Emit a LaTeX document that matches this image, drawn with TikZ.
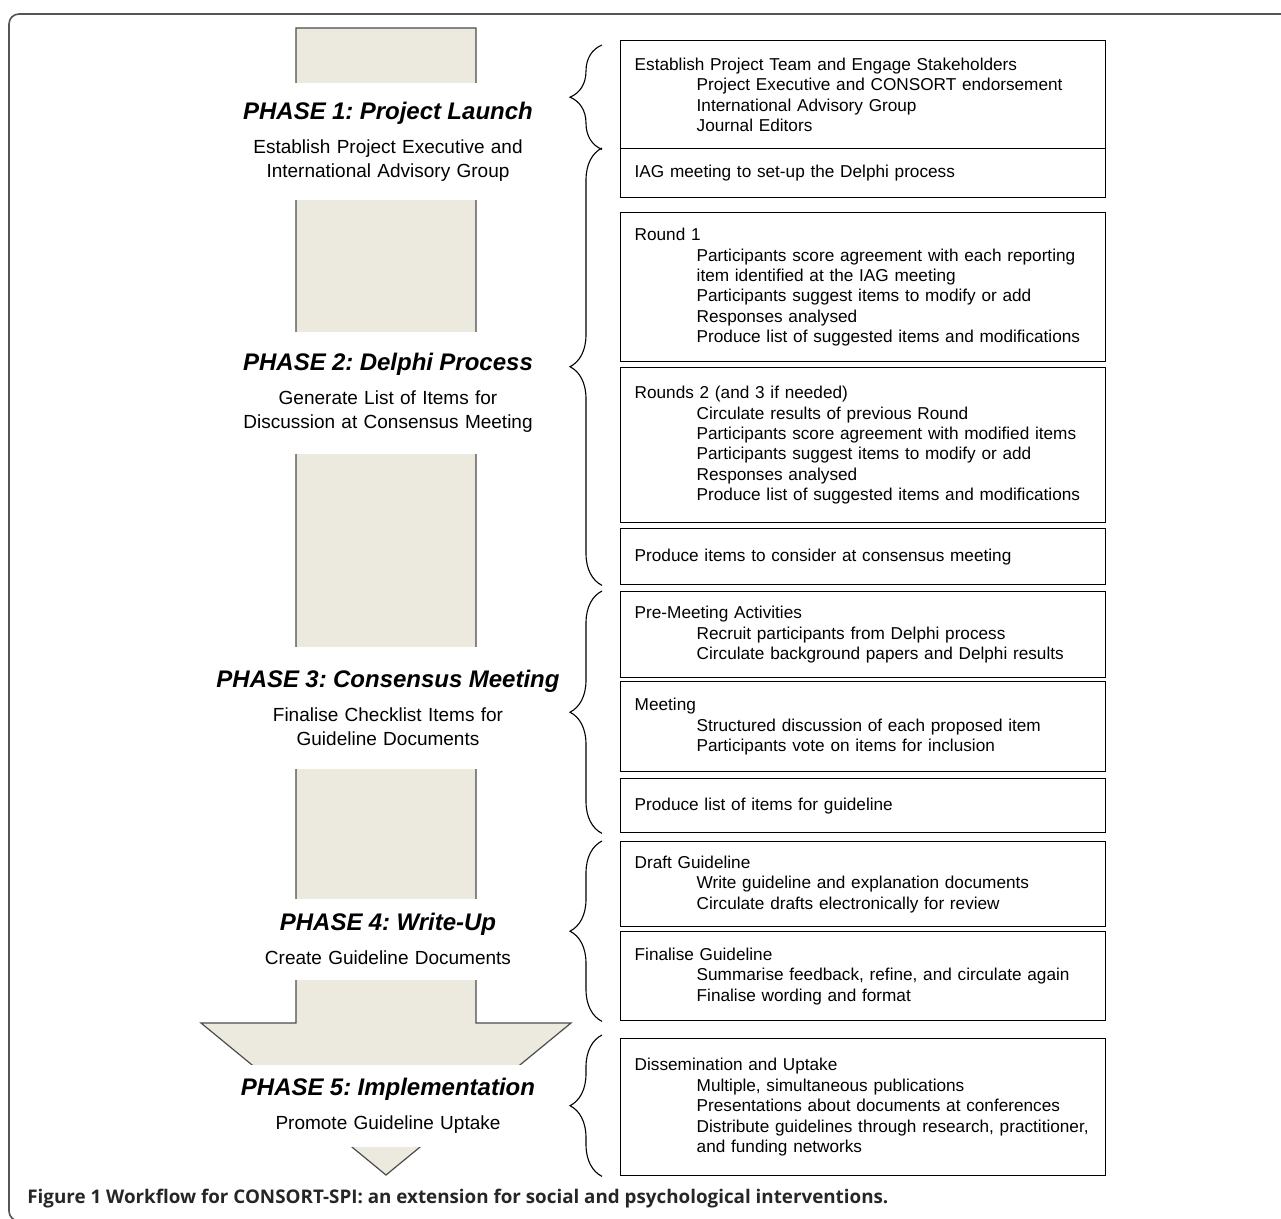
\documentclass[tikz,border=0pt]{standalone}
\usepackage{fontspec}
\setmainfont{Liberation Sans}
\newfontfamily\capfont{Open Sans}
\usetikzlibrary{decorations.pathreplacing}

\definecolor{shaftfill}{RGB}{236,233,223}
\definecolor{framegray}{RGB}{85,85,85}
\newcommand{\ind}{\hspace*{31pt}}
\newcommand{\phasetitle}[1]{{\fontsize{12}{12}\selectfont\bfseries\itshape #1}\\[5pt]}
\frenchspacing

\begin{document}
\begin{tikzpicture}[x=0.5pt, y=-0.5pt,
    phase/.style={fill=white, inner sep=0pt, text width=180pt, align=center, font=\fontsize{9.5}{12}\selectfont},
    item/.style={draw, line width=0.7pt, anchor=north west, inner xsep=7pt, inner ysep=0pt, text width=228.5pt, align=left, font=\fontsize{8.6}{10.2}\selectfont},
    brc/.style={decorate, decoration={brace, amplitude=16pt}, line width=0.55pt},
    shaft/.style={draw=black!70, line width=0.6pt, fill=shaftfill}]

    \useasboundingbox (0,0) rectangle (1281,1219);
    \clip (0,0) rectangle (1281,1219);

    % Frame
    \draw[framegray, line width=0.8pt, rounded corners=5pt] (9,14) rectangle (1320,1221);

    % Arrow
    \draw[shaft] (296,28) -- (476,28) -- (476,1023) -- (571,1023) -- (386,1175) -- (201,1023) -- (296,1023) -- cycle;

    % Phases
    \node[phase, minimum height=58.5pt] (p1) at (388,142) {\phasetitle{PHASE 1: Project Launch}Establish Project Executive and\\International Advisory Group};
    \node[phase, minimum height=61pt] (p2) at (388,393) {\phasetitle{PHASE 2: Delphi Process}Generate List of Items for\\Discussion at Consensus Meeting};
    \node[phase, minimum height=61pt] (p3) at (388,708) {\phasetitle{PHASE 3: Consensus Meeting}Finalise Checklist Items for\\Guideline Documents};
    \node[phase, minimum height=40.5pt] (p4) at (388,939) {\phasetitle{PHASE 4: Write-Up}Create Guideline Documents};
    \node[phase, minimum height=41pt] (p5) at (388,1106) {\phasetitle{PHASE 5: Implementation}Promote Guideline Uptake};

    % Activities
    \node[item, minimum height=54pt] (b1) at (620,40) {Establish Project Team and Engage Stakeholders\\\ind Project Executive and CONSORT endorsement\\\ind International Advisory Group\\\ind Journal Editors};
    \node[item, minimum height=24.5pt] (b2) at (620,148) {IAG meeting to set-up the Delphi process};
    \node[item, minimum height=74.5pt] (b3) at (620,212) {Round 1\\\ind Participants score agreement with each reporting\\\ind item identified at the IAG meeting\\\ind Participants suggest items to modify or add\\\ind Responses analysed\\\ind Produce list of suggested items and modifications};
    \node[item, minimum height=77.5pt] (b4) at (620,367) {Rounds 2 (and 3 if needed)\\\ind Circulate results of previous Round\\\ind Participants score agreement with modified items\\\ind Participants suggest items to modify or add\\\ind Responses analysed\\\ind Produce list of suggested items and modifications};
    \node[item, minimum height=28pt] (b5) at (620,528) {Produce items to consider at consensus meeting};
    \node[item, minimum height=43pt] (b6) at (620,591) {Pre-Meeting Activities\\\ind Recruit participants from Delphi process\\\ind Circulate background papers and Delphi results};
    \node[item, minimum height=45pt] (b7) at (620,681) {Meeting\\\ind Structured discussion of each proposed item\\\ind Participants vote on items for inclusion};
    \node[item, minimum height=27pt] (b8) at (620,778) {Produce list of items for guideline};
    \node[item, minimum height=42.5pt] (b9) at (620,841) {Draft Guideline\\\ind Write guideline and explanation documents\\\ind Circulate drafts electronically for review};
    \node[item, minimum height=44.5pt] (b10) at (620,931) {Finalise Guideline\\\ind Summarise feedback, refine, and circulate again\\\ind Finalise wording and format};
    \node[item, minimum height=68.5pt] (b11) at (620,1038) {Dissemination and Uptake\\\ind Multiple, simultaneous publications\\\ind Presentations about documents at conferences\\\ind Distribute guidelines through research, practitioner,\\\ind and funding networks};

    % Braces
    \draw[brc] ([xshift=-9pt]b1.south west) -- ([xshift=-9pt, yshift=-2.5pt]b1.north west);
    \draw[brc] ([xshift=-9pt]b5.south west) -- ([xshift=-9pt]b2.north west);
    \draw[brc] ([xshift=-9pt]b8.south west) -- ([xshift=-9pt]b6.north west);
    \draw[brc] ([xshift=-9pt]b10.south west) -- ([xshift=-9pt]b9.north west);
    \draw[brc] ([xshift=-9pt]b11.south west) -- ([xshift=-9pt, yshift=1.5pt]b11.north west);

    % Caption
    \node[anchor=west, inner sep=0pt, font=\capfont\fontsize{9.4}{11}\selectfont\bfseries, text=black!85] (cap) at (27,1199) {Figure 1 Workflow for CONSORT-SPI: an extension for social and psychological interventions.};
\end{tikzpicture}
\end{document}
